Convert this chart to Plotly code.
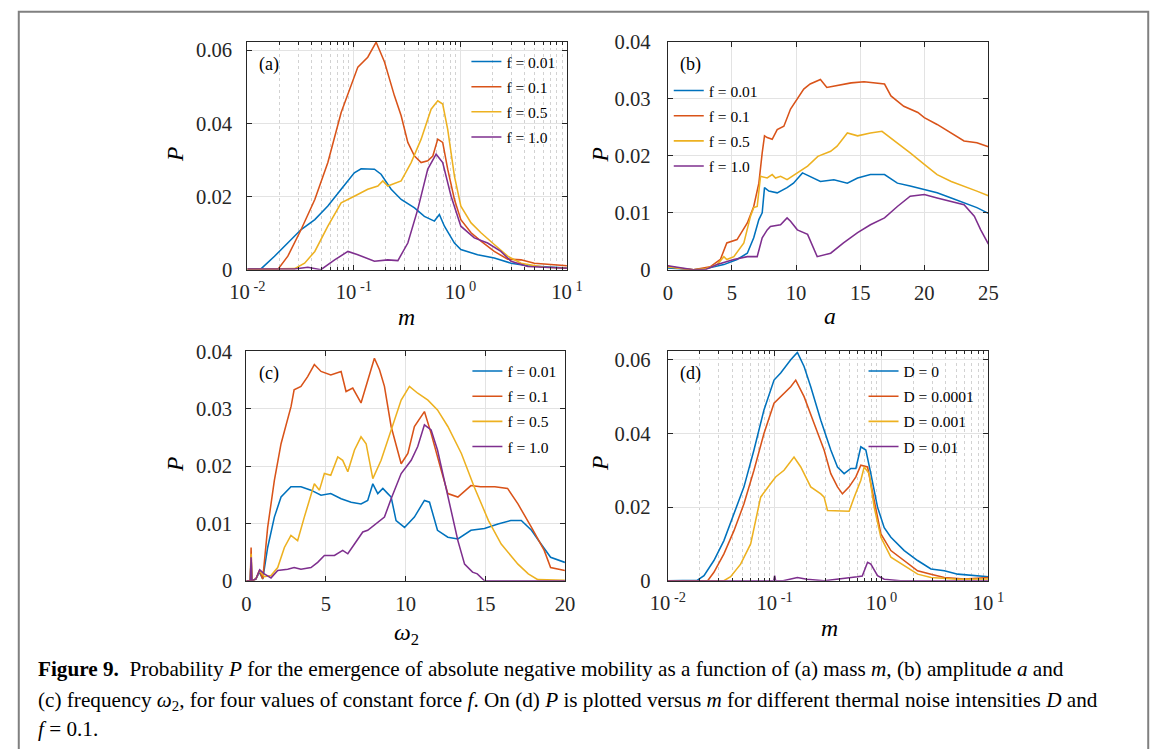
import plotly.graph_objects as go

W, H = 1165, 749
# measured: the photographed page appears scaled about its centre; targets below are given in
# picture pixels and converted back to figure pixels
SX, OX = 0.972, 16.4
SY, OY = 0.969, 11.7
K = 1 / 0.97  # size compensation

BLUE, RED, YEL, PUR = "#0072BD", "#D95319", "#EDB120", "#7E2F8E"
COLORS = [BLUE, RED, YEL, PUR]

# ---------------- panel (a): P vs m, four f ----------------
a_names = ["f = 0.01", "f = 0.1", "f = 0.5", "f = 1.0"]
a_m_f001 = [0.01, 0.0135, 0.018, 0.024, 0.032, 0.043, 0.057, 0.076, 0.101, 0.117, 0.156, 0.18, 0.224,
            0.278, 0.371, 0.459, 0.57, 0.635, 0.708, 0.879, 1.01, 1.45, 2.08, 2.99, 4.28, 10]
a_P_f001 = [0.0002, 0.0003, 0.0037, 0.0073, 0.011, 0.0137, 0.0174, 0.022, 0.0265, 0.0276, 0.0275, 0.0261,
            0.022, 0.0192, 0.0169, 0.0146, 0.0133, 0.0151, 0.0119, 0.0073, 0.0055, 0.0041, 0.0032, 0.0018,
            0.0011, 0.0005]
a_m_f01 = [0.01, 0.0195, 0.024, 0.032, 0.043, 0.057, 0.076, 0.0944, 0.109, 0.135, 0.162, 0.194, 0.240,
           0.278, 0.321, 0.371, 0.428, 0.494, 0.551, 0.613, 0.682, 0.760, 0.879, 1.01, 1.26, 1.56, 2.08,
           2.78, 3.71, 4.94, 10]
a_P_f01 = [0.0001, 0.0002, 0.0037, 0.011, 0.0192, 0.0293, 0.043, 0.0503, 0.0554, 0.0581, 0.0622, 0.0568,
           0.0476, 0.0421, 0.0348, 0.0311, 0.0293, 0.0298, 0.0311, 0.0357, 0.0348, 0.0275, 0.0192, 0.0137,
           0.0101, 0.0078, 0.005, 0.0029, 0.0027, 0.0018, 0.0011]
a_m_f05 = [0.01, 0.0278, 0.0345, 0.043, 0.057, 0.076, 0.101, 0.135, 0.168, 0.187, 0.208, 0.278, 0.345,
           0.428, 0.531, 0.613, 0.682, 0.760, 0.879, 1.01, 1.26, 1.56, 2.08, 2.78, 3.71, 6.13, 10]
a_P_f05 = [0.0001, 0.0003, 0.0018, 0.005, 0.0119, 0.0183, 0.0201, 0.022, 0.0229, 0.0243, 0.0229, 0.0243,
           0.0293, 0.0357, 0.0439, 0.0462, 0.0453, 0.0384, 0.0256, 0.0174, 0.0128, 0.0101, 0.0069, 0.0037,
           0.0018, 0.0007, 0.0004]
a_m_f10 = [0.01, 0.0278, 0.037, 0.049, 0.066, 0.088, 0.109, 0.156, 0.208, 0.259, 0.321, 0.398, 0.494,
           0.592, 0.682, 0.818, 1.01, 1.35, 1.80, 2.40, 2.99, 4.28, 10]
a_P_f10 = [0.0002, 0.0002, 0.0007, 0.0, 0.0027, 0.005, 0.0041, 0.0023, 0.0027, 0.0025, 0.0073, 0.0165,
           0.0275, 0.0316, 0.0293, 0.0201, 0.0119, 0.0087, 0.0073, 0.005, 0.0023, 0.0009, 0.0004]

# ---------------- panel (b): P vs a, four f ----------------
b_a_f001 = [0, 1, 2, 3, 4.37, 5.4, 6.2, 6.7, 7.1, 7.36, 7.54, 7.88, 8.53, 9.3, 9.8, 10.5, 11.1, 11.9, 12.95,
            14.0, 14.8, 15.8, 16.9, 17.9, 18.9, 20.0, 21.0, 22.1, 23.1, 24.1, 25]
b_P_f001 = [0.0003, 0.0001, 0, 0.0002, 0.0009, 0.0018, 0.0029, 0.0056, 0.0088, 0.01, 0.0144, 0.0138, 0.0135,
            0.0144, 0.0152, 0.017, 0.0164, 0.0155, 0.0158, 0.0152, 0.0161, 0.0167, 0.0167, 0.0152, 0.0147,
            0.0141, 0.0135, 0.0126, 0.0117, 0.0109, 0.0099]
b_a_f01 = [0, 1, 2, 3.3, 4.1, 4.6, 5.4, 6.2, 6.7, 7.1, 7.36, 7.54, 7.75, 8.14, 8.53, 9.05, 9.57, 10.1, 10.6,
           11.1, 11.9, 12.4, 13.2, 14.3, 15.3, 16.3, 16.9, 17.4, 18.4, 19.5, 20.0, 21.0, 22.1, 23.1, 24.1, 25]
b_P_f01 = [0.0006, 0.0002, 0, 0.0005, 0.0018, 0.0047, 0.0053, 0.0082, 0.0111, 0.0152, 0.0205, 0.0235, 0.0232,
           0.0229, 0.0246, 0.0252, 0.0282, 0.0299, 0.0317, 0.0326, 0.0334, 0.032, 0.0323, 0.0328, 0.033,
           0.0327, 0.0326, 0.0305, 0.0287, 0.0276, 0.0267, 0.0255, 0.024, 0.0226, 0.0223, 0.0216]
b_a_f05 = [0, 1, 2, 3, 3.85, 4.37, 4.6, 5.15, 5.93, 6.45, 6.7, 6.97, 7.23, 7.75, 8.14, 8.4, 8.79, 9.3, 10.1,
           10.9, 11.7, 12.7, 13.2, 14.0, 14.8, 15.8, 16.7, 17.9, 18.9, 20.0, 21.0, 22.1, 23.1, 24.1, 25]
b_P_f05 = [0.0005, 0.0002, 0, 0.0002, 0.0009, 0.0023, 0.0018, 0.0023, 0.0047, 0.0094, 0.0109, 0.0111,
           0.0164, 0.0161, 0.0167, 0.0161, 0.0164, 0.0158, 0.017, 0.0182, 0.0199, 0.0208, 0.0217, 0.024,
           0.0235, 0.024, 0.0243, 0.0223, 0.0205, 0.0185, 0.0167, 0.0155, 0.0147, 0.0138, 0.013]
b_a_f10 = [0, 1, 2, 3, 3.85, 5.15, 6.2, 6.97, 7.36, 7.75, 8.0, 8.79, 9.3, 9.57, 10.1, 10.9, 11.65, 12.7,
           13.7, 14.8, 15.8, 16.9, 17.9, 18.9, 20.0, 21.0, 22.1, 23.1, 23.9, 24.4, 25]
b_P_f10 = [0.0007, 0.0003, 0, 0.0001, 0.0009, 0.0018, 0.0023, 0.0023, 0.0056, 0.007, 0.0076, 0.0079,
           0.0091, 0.0085, 0.007, 0.0062, 0.0023, 0.0029, 0.0047, 0.0065, 0.0079, 0.0091, 0.0111, 0.0129,
           0.0132, 0.0126, 0.012, 0.0114, 0.0094, 0.007, 0.0045]

# ---------------- panel (c): P vs omega2, four f ----------------
c_w_f001 = [0, 0.25, 0.3, 0.35, 0.6, 0.82, 1.03, 1.34, 1.76, 2.18, 2.8, 3.43, 4.06, 4.69, 5.3, 5.95, 6.58,
            7.2, 7.62, 7.94, 8.25, 8.57, 8.88, 9.09, 9.4, 9.93, 10.55, 11.18, 11.5, 12.0, 12.65, 13.28, 14.1,
            14.95, 15.8, 16.6, 17.26, 17.9, 18.5, 19.1, 20]
c_P_f001 = [0, 0, 0.0041, 0, 0.0003, 0.0015, 0.0003, 0.0058, 0.0111, 0.0146, 0.0164, 0.0164, 0.0158,
            0.0149, 0.0152, 0.0143, 0.0137, 0.0134, 0.014, 0.0169, 0.0152, 0.0161, 0.0152, 0.0146, 0.0105,
            0.0093, 0.0111, 0.014, 0.0137, 0.0088, 0.0076, 0.0073, 0.0088, 0.0091, 0.0099, 0.0105, 0.0105,
            0.0088, 0.0064, 0.0041, 0.0032]
c_w_f01 = [0, 0.25, 0.3, 0.35, 0.6, 0.82, 1.03, 1.34, 1.76, 2.18, 2.81, 3.0, 3.43, 3.85, 4.27, 4.69, 5.3,
           5.95, 6.26, 6.68, 7.2, 7.62, 8.04, 8.36, 8.67, 9.09, 9.72, 10.14, 10.55, 11.18, 11.6, 12.23, 12.65,
           13.28, 14.1, 14.7, 15.6, 16.4, 17.05, 17.9, 18.7, 19.1, 20]
c_P_f01 = [0, 0, 0.0058, 0, 0.0003, 0.0018, 0.0003, 0.0093, 0.0175, 0.0239, 0.0304, 0.0333, 0.0339, 0.0356,
           0.0377, 0.0365, 0.0359, 0.0365, 0.033, 0.0336, 0.031, 0.035, 0.0388, 0.0368, 0.0339, 0.0269,
           0.0204, 0.0222, 0.0269, 0.0295, 0.0257, 0.0193, 0.0152, 0.0146, 0.0166, 0.0164, 0.0164, 0.0161,
           0.0134, 0.0093, 0.0053, 0.0023, 0.0018]
c_w_f05 = [0, 0.25, 0.3, 0.35, 0.6, 0.84, 1.13, 1.55, 1.97, 2.39, 2.8, 3.22, 3.64, 4.27, 4.59, 4.9, 5.3,
           5.74, 6.05, 6.37, 6.79, 7.2, 7.52, 7.94, 8.46, 9.09, 9.72, 10.24, 10.76, 11.4, 12.0, 12.65, 13.5,
           14.3, 15.2, 16.0, 16.4, 17.05, 17.7, 18.3, 20]
c_P_f05 = [0, 0, 0.0047, 0, 0.0003, 0.0018, 0.0007, 0.0009, 0.0023, 0.0058, 0.0079, 0.007, 0.0111, 0.0169,
           0.0158, 0.0187, 0.0184, 0.0216, 0.021, 0.019, 0.0228, 0.0251, 0.0239, 0.0178, 0.021, 0.0263,
           0.0315, 0.0339, 0.0327, 0.0315, 0.0298, 0.0269, 0.0222, 0.0164, 0.0105, 0.0064, 0.005, 0.0029,
           0.0012, 0.0002, 0.0001]
c_w_f10 = [0, 0.25, 0.3, 0.35, 0.6, 0.84, 1.13, 1.55, 1.97, 2.6, 3.0, 3.43, 4.06, 4.48, 4.9, 5.53, 6.05,
           6.37, 6.79, 7.31, 7.62, 8.25, 8.67, 9.09, 9.72, 10.35, 10.76, 11.18, 11.6, 12.0, 12.44, 12.86,
           13.28, 13.7, 14.2, 14.5, 14.95, 20]
c_P_f10 = [0, 0, 0.0041, 0, 0.0003, 0.0019, 0.0012, 0.0005, 0.0018, 0.002, 0.0023, 0.002, 0.0023, 0.0032,
           0.0044, 0.0044, 0.0053, 0.0047, 0.0064, 0.0085, 0.0088, 0.0102, 0.0111, 0.0143, 0.0187, 0.021,
           0.0234, 0.0272, 0.0263, 0.0228, 0.0175, 0.0123, 0.007, 0.0029, 0.0015, 0.0012, 0, 0]

# ---------------- panel (d): P vs m, four D (f = 0.1) ----------------
d_names = ["D = 0", "D = 0.0001", "D = 0.001", "D = 0.01"]
d_m_D0 = [0.01, 0.0188, 0.0218, 0.027, 0.0335, 0.0416, 0.0516, 0.064, 0.0794, 0.0986, 0.1138, 0.1413,
          0.1631, 0.1884, 0.2175, 0.27, 0.335, 0.387, 0.4467, 0.516, 0.575, 0.64, 0.713, 0.794, 0.917,
          1.059, 1.223, 1.631, 2.175, 2.9, 3.87, 5.16, 10]
d_P_D0 = [0, 0.0001, 0.0014, 0.0055, 0.0109, 0.0182, 0.0255, 0.0355, 0.0464, 0.0545, 0.0564, 0.06, 0.062,
          0.0582, 0.0527, 0.0436, 0.0355, 0.0309, 0.0291, 0.0305, 0.0305, 0.0364, 0.0355, 0.0291, 0.02,
          0.0144, 0.0118, 0.0082, 0.0055, 0.0032, 0.0027, 0.0018, 0.0011]
d_m_D1 = [0.01, 0.0236, 0.027, 0.0335, 0.0416, 0.0516, 0.064, 0.0794, 0.0986, 0.1223, 0.1413, 0.1574,
          0.1884, 0.2339, 0.29, 0.335, 0.387, 0.4305, 0.4977, 0.575, 0.64, 0.7396, 0.853, 0.9857, 1.223,
          1.631, 2.175, 2.9, 3.87, 5.96, 10]
d_P_D1 = [0, 0, 0.0023, 0.0073, 0.0136, 0.0209, 0.03, 0.04, 0.0482, 0.0509, 0.0527, 0.0545, 0.05, 0.0427,
          0.0355, 0.0291, 0.0255, 0.0236, 0.0255, 0.0282, 0.0314, 0.0309, 0.0218, 0.0127, 0.0082, 0.0055,
          0.0027, 0.0018, 0.0009, 0.0005, 0.0009]
d_m_D2 = [0.01, 0.0335, 0.0387, 0.048, 0.0596, 0.0739, 0.0917, 0.1021, 0.1223, 0.1517, 0.1754, 0.2175,
          0.27, 0.29, 0.312, 0.387, 0.4977, 0.5546, 0.64, 0.688, 0.7656, 0.853, 0.9857, 1.223, 1.631, 2.175,
          2.9, 5.16, 10]
d_P_D2 = [0, 0, 0.0011, 0.0045, 0.01, 0.0227, 0.0264, 0.0282, 0.03, 0.0336, 0.0309, 0.0255, 0.0236, 0.0227,
          0.0191, 0.0191, 0.0189, 0.0227, 0.0273, 0.0309, 0.0291, 0.02, 0.0118, 0.0064, 0.0041, 0.0018,
          0.0009, 0.0004, 0.0005]
d_m_D3 = [0.01, 0.098, 0.1, 0.102, 0.12, 0.163, 0.2, 0.29, 0.594, 0.66, 0.74, 0.794, 0.917, 1.059, 1.5, 10]
d_P_D3 = [0, 0, 0.0014, 0, 0, 0.0009, 0.0004, 0, 0.0011, 0.0013, 0.005, 0.0045, 0.0014, 0.0004, 0, 0]

# ---------------- ticks ----------------
log_tickvals = [0.01, 0.1, 1, 10]
log_ticktext = ["10<sup> -2</sup>", "10<sup> -1</sup>", "10<sup> 0</sup>", "10<sup> 1</sup>"]
log_minor = [k * 10.0 ** e for e in (-2, -1, 0) for k in range(2, 10)]
P_ticks_06 = [0, 0.02, 0.04, 0.06]
P_text_06 = ["0", "0.02", "0.04", "0.06"]
P_ticks_04 = [0, 0.01, 0.02, 0.03, 0.04]
P_text_04 = ["0", "0.01", "0.02", "0.03", "0.04"]
a_ticks = [0, 5, 10, 15, 20, 25]
w_ticks = [0, 5, 10, 15, 20]

FONT = "Liberation Serif"
AX = "#262626"
GRID = "#e3e3e3"


def fx(t):
    """picture x pixel -> figure x pixel"""
    return (t - OX) / SX


def fy(t):
    return (t - OY) / SY


def px_x(t):
    return fx(t) / W


def px_y(t):
    return 1 - fy(t) / H


def axis(domain, anchor, **kw):
    d = dict(domain=domain, anchor=anchor, showline=True, linecolor=AX, linewidth=1,
             mirror="allticks", ticks="inside", ticklen=5, tickcolor=AX, tickwidth=1,
             showgrid=True, gridcolor=GRID, gridwidth=1, zeroline=False,
             tickfont=dict(family=FONT, size=20 * K, color=AX))
    d.update(kw)
    return d


xa = [px_x(246), px_x(566)]
xb = [px_x(667), px_x(988)]
xc = [px_x(245), px_x(564)]
xd = [px_x(667), px_x(988)]
ytop = [px_y(270), px_y(42.5)]
ybot = [px_y(580.5), px_y(351.5)]

log_minor_cfg = dict(tickmode="array", tickvals=log_minor, ticks="inside", ticklen=3, tickcolor=AX,
                     showgrid=True, griddash="dot", gridcolor="#d2d2d2", gridwidth=1)

fig = go.Figure()

panels = [
    ("x", "y", "legend", [(a_m_f001, a_P_f001), (a_m_f01, a_P_f01), (a_m_f05, a_P_f05), (a_m_f10, a_P_f10)], a_names),
    ("x2", "y2", "legend2", [(b_a_f001, b_P_f001), (b_a_f01, b_P_f01), (b_a_f05, b_P_f05), (b_a_f10, b_P_f10)], a_names),
    ("x3", "y3", "legend3", [(c_w_f001, c_P_f001), (c_w_f01, c_P_f01), (c_w_f05, c_P_f05), (c_w_f10, c_P_f10)], a_names),
    ("x4", "y4", "legend4", [(d_m_D0, d_P_D0), (d_m_D1, d_P_D1), (d_m_D2, d_P_D2), (d_m_D3, d_P_D3)], d_names),
]
for pi, (xr, yr, lg, series, names) in enumerate(panels):
    for si, ((xs, ys), name, col) in enumerate(zip(series, names, COLORS)):
        fig.add_trace(go.Scatter(x=xs, y=ys, mode="lines", name=name, xaxis=xr, yaxis=yr, legend=lg,
                                 legendgroup=f"g{pi}{si}", line=dict(color=col, width=1.5 * K)))

fig.update_layout(
    width=W, height=H, margin=dict(l=0, r=0, t=0, b=0),
    paper_bgcolor="white", plot_bgcolor="white",
    font=dict(family=FONT, color=AX),
    xaxis=axis(xa, "y", type="log", range=[-2, 1], tickmode="array", tickvals=log_tickvals,
               ticktext=log_ticktext, minor=log_minor_cfg, ticklabelstandoff=4),
    yaxis=axis(ytop, "x", range=[0, 0.0623], tickmode="array", tickvals=P_ticks_06, ticktext=P_text_06,
               ticklabelstandoff=10),
    xaxis2=axis(xb, "y2", range=[0, 25], tickmode="array", tickvals=a_ticks, ticklabelstandoff=5),
    yaxis2=axis(ytop, "x2", range=[0, 0.04], tickmode="array", tickvals=P_ticks_04, ticktext=P_text_04,
                ticklabelstandoff=12),
    xaxis3=axis(xc, "y3", range=[0, 20], tickmode="array", tickvals=w_ticks, ticklabelstandoff=5),
    yaxis3=axis(ybot, "x3", range=[0, 0.04], tickmode="array", tickvals=P_ticks_04, ticktext=P_text_04,
                ticklabelstandoff=9),
    xaxis4=axis(xd, "y4", type="log", range=[-2, 1], tickmode="array", tickvals=log_tickvals,
                ticktext=log_ticktext, minor=log_minor_cfg, ticklabelstandoff=4),
    yaxis4=axis(ybot, "x4", range=[0, 0.0623], tickmode="array", tickvals=P_ticks_06, ticktext=P_text_06,
                ticklabelstandoff=12),
)

leg_common = dict(bgcolor="rgba(0,0,0,0)", borderwidth=0, font=dict(family=FONT, size=15.5, color="#000"),
                  xanchor="left", yanchor="top", tracegroupgap=2, traceorder="grouped")


def leg_pos(line_start_t, first_row_t):
    return dict(x=(fx(line_start_t) - 5.5) / W, y=1 - (fy(first_row_t) - 16.6) / H)


fig.update_layout(
    legend=dict(**leg_pos(470.7, 61.7), **leg_common),
    legend2=dict(**leg_pos(673.3, 90.7), **leg_common),
    legend3=dict(**leg_pos(471.7, 370.7), **leg_common),
    legend4=dict(**leg_pos(868.3, 370.7), **leg_common),
)

ann = []


def txt(x, y, s, size=17.5, color="#000", **kw):
    d = dict(x=px_x(x), y=px_y(y), xref="paper", yref="paper", text=s, showarrow=False,
             xanchor="center", yanchor="middle",
             font=dict(family=FONT, size=size * K, color=color))
    d.update(kw)
    ann.append(d)


# panel labels
txt(267.5, 65, "(a)")
txt(690, 65.5, "(b)")
txt(267.5, 374, "(c)")
txt(690, 374, "(d)")
# axis titles
txt(405, 317, "<i>m</i>", size=23)
txt(829, 316, "<i>a</i>", size=23)
txt(405, 634, "<i>ω</i><sub>2</sub>", size=23)
txt(828.5, 628, "<i>m</i>", size=23)
for xx, yy in [(173, 155), (599, 155), (173, 464.5), (599, 463)]:
    txt(xx, yy, "<i>P</i>", size=23, textangle=-90)

# caption (three lines)
cap1 = ("<b>Figure 9.</b>  Probability <i>P</i> for the emergence of absolute negative mobility as a function of "
        "(a) mass <i>m</i>, (b) amplitude <i>a</i> and")
cap2 = ("(c) frequency <i>ω</i><sub>2</sub>, for four values of constant force <i>f</i>. On (d) <i>P</i> is plotted "
        "versus <i>m</i> for different thermal noise intensities <i>D</i> and")
cap3 = "<i>f</i> = 0.1."
for yy, s in [(668.5, cap1), (701, cap2), (728, cap3)]:
    txt(34, yy, s, size=21.2 * 0.97, xanchor="left", yanchor="middle")

fig.update_layout(annotations=ann)

# outer frame (as close to the picture edges as the page allows)
fig.add_shape(type="rect", xref="paper", yref="paper", x0=0.8 / W, x1=1 - 0.8 / W, y0=-0.05, y1=1 - 0.8 / H,
              line=dict(color="#808080", width=2))

fig.write_html("out.html")
